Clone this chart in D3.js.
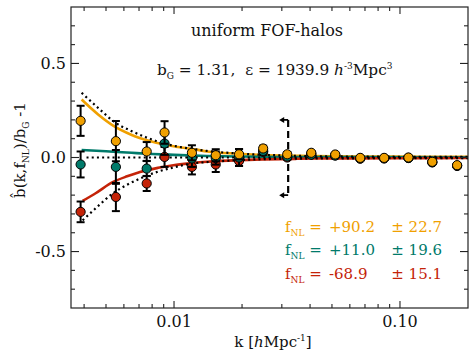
<!DOCTYPE html>
<html>
<head>
<meta charset="utf-8">
<script src="https://cdn.jsdelivr.net/npm/d3@7"></script>
<style>
  body { margin: 0; background: #fff; }
  text { font-family: "DejaVu Serif", serif; fill: #111; white-space: pre; }
</style>
</head>
<body>
<div id="app"></div>
<script>
// 画布大小
const width = 472, height = 354;
const padding = { left: 71, right: 4, top: 7, bottom: 46 };

// 数据点的k值
const kBins = [0.00386, 0.00553, 0.00757, 0.00908, 0.0120, 0.0153, 0.0194, 0.0248,
               0.0317, 0.0405, 0.0517, 0.0667, 0.0851, 0.109, 0.139, 0.179];

// 三组测量值与误差
const orangeVals = [0.195, 0.087, 0.032, 0.133, 0.025, 0.012, 0.017, 0.048, 0.017, 0.025, 0.016, -0.002, -0.002, 0.0, -0.023, -0.041];
const orangeErr  = [0.080, 0.107, 0.050, 0.060, 0.040, 0.032, 0.027, 0.015, 0.012, 0.010, 0.008, 0.006, 0.005, 0.004, 0.003, 0.003];
const tealVals   = [-0.037, -0.050, -0.059, 0.074, -0.005, -0.003, 0.0, 0.035, 0.005, 0.015, 0.010, -0.005, -0.004, -0.002, -0.025, -0.043];
const tealErr    = [0.069, 0.090, 0.040, 0.060, 0.045, 0.035, 0.045, 0.020, 0.012, 0.010, 0.008, 0.006, 0.005, 0.004, 0.003, 0.003];
const redVals    = [-0.289, -0.210, -0.138, 0.003, -0.050, -0.037, -0.018, 0.030, 0.0, 0.020, 0.012, -0.006, -0.005, -0.003, -0.026, -0.045];
const redErr     = [0.055, 0.075, 0.040, 0.053, 0.040, 0.040, 0.027, 0.015, 0.012, 0.010, 0.008, 0.006, 0.005, 0.004, 0.003, 0.003];

// 模型曲线
const orangeCurveK = [0.0039, 0.0046, 0.0054, 0.0065, 0.0078, 0.0093, 0.0104, 0.0125, 0.014, 0.0192, 0.025, 0.035, 0.05, 0.08, 0.12, 0.2];
const orangeCurve  = [0.308, 0.230, 0.168, 0.120, 0.088, 0.066, 0.056, 0.042, 0.032, 0.020, 0.013, 0.009, 0.006, 0.005, 0.004, 0.004];
const upperDotK    = [0.0039, 0.0047, 0.0055, 0.0065, 0.0075, 0.009, 0.0104, 0.0125, 0.014, 0.02, 0.03, 0.05, 0.1, 0.2];
const upperDot     = [0.344, 0.255, 0.185, 0.140, 0.108, 0.075, 0.058, 0.043, 0.035, 0.020, 0.011, 0.006, 0.004, 0.003];
const tealCurveK   = [0.0039, 0.005, 0.0065, 0.008, 0.01, 0.014, 0.02, 0.03, 0.05, 0.2];
const tealCurve    = [0.040, 0.033, 0.025, 0.019, 0.014, 0.008, 0.005, 0.003, 0.002, 0.001];
const midDotK      = [0.0041, 0.01, 0.05, 0.2];
const midDot       = [0.0, 0.0, 0.0, 0.0];
const redCurveK    = [0.00394, 0.0045, 0.00538, 0.0062, 0.00707, 0.0085, 0.00993, 0.012, 0.01395, 0.0192, 0.025, 0.035, 0.05, 0.1, 0.2];
const redCurve     = [-0.231, -0.190, -0.130, -0.100, -0.077, -0.055, -0.041, -0.030, -0.023, -0.014, -0.010, -0.007, -0.005, -0.004, -0.003];
const lowerDotK    = [0.00394, 0.0045, 0.00538, 0.0062, 0.00707, 0.0085, 0.0095, 0.012, 0.015, 0.0192, 0.03, 0.05, 0.2];
const lowerDot     = [-0.334, -0.270, -0.190, -0.145, -0.112, -0.075, -0.059, -0.032, -0.022, -0.014, -0.007, -0.005, -0.003];

// 图例文字
const fnlVals = ['+90.2', '+11.0', '-68.9'];
const fnlErrs = ['22.7', '19.6', '15.1'];
const colors = ['#f0a000', '#007a6a', '#c42308'];

// 刻度
const xMajor = [0.01, 0.1];
const xTickLabels = ['0.01', '0.10'];
const xMinor = [0.004, 0.005, 0.006, 0.007, 0.008, 0.009, 0.02, 0.03, 0.04, 0.05, 0.06, 0.07, 0.08, 0.09];
const yMajor = [-0.5, 0, 0.5];
const yTickLabels = ['-0.5', '0.0', '0.5'];
const yMinor = [-0.7, -0.6, -0.4, -0.3, -0.2, -0.1, 0.1, 0.2, 0.3, 0.4, 0.6, 0.7];
const kCut = 0.032;

const x0 = padding.left, x1 = width - padding.right;
const y0 = padding.top, y1 = height - padding.bottom;

const xScale = d3.scaleLog().domain([0.0035, 0.2]).range([x0, x1]);
const yScale = d3.scaleLinear().domain([-0.8, 0.8]).range([y1, y0]);

const svg = d3.select('#app').append('svg')
    .attr('width', width).attr('height', height);

// 剪裁区域
svg.append('clipPath').attr('id', 'clip')
    .append('rect').attr('x', x0).attr('y', y0).attr('width', x1 - x0).attr('height', y1 - y0);

const plot = svg.append('g').attr('clip-path', 'url(#clip)');

const line = d3.line().x(d => xScale(d[0])).y(d => yScale(d[1])).curve(d3.curveMonotoneX);
const zip = (ks, vs) => ks.map((k, i) => [k, vs[i]]);

// 模型曲线（实线）
[[orangeCurveK, orangeCurve, colors[0]], [tealCurveK, tealCurve, colors[1]], [redCurveK, redCurve, colors[2]]]
    .forEach(([ks, vs, c]) => {
        plot.append('path').datum(zip(ks, vs))
            .attr('d', line).attr('fill', 'none')
            .attr('stroke', c).attr('stroke-width', 2.6);
    });

// 点线
[[upperDotK, upperDot], [midDotK, midDot], [lowerDotK, lowerDot]].forEach(([ks, vs]) => {
    plot.append('path').datum(zip(ks, vs))
        .attr('d', line).attr('fill', 'none')
        .attr('stroke', '#000').attr('stroke-width', 2.2)
        .attr('stroke-dasharray', '2,3.2');
});

// 虚线与箭头
const xc = xScale(kCut);
[0.2, -0.2].forEach(v => {
    const yy = yScale(v);
    plot.append('line').attr('x1', xc).attr('x2', xc - 5).attr('y1', yy).attr('y2', yy)
        .attr('stroke', '#000').attr('stroke-width', 1.8);
    plot.append('path')
        .attr('d', `M${xc - 9},${yy} L${xc - 4},${yy - 3} L${xc - 4},${yy + 3} Z`)
        .attr('fill', '#000');
});
plot.append('line')
    .attr('x1', xc).attr('x2', xc)
    .attr('y1', yScale(0.2)).attr('y2', yScale(-0.2))
    .attr('stroke', '#000').attr('stroke-width', 2.2)
    .attr('stroke-dasharray', '7,4');

// 误差棒与数据点
const series = [
    [redVals, redErr, colors[2]],
    [tealVals, tealErr, colors[1]],
    [orangeVals, orangeErr, colors[0]]
];
series.forEach(([vals, errs, c]) => {
    const g = plot.append('g');
    kBins.forEach((k, i) => {
        const xx = xScale(k);
        const yt = yScale(vals[i] + errs[i]), yb = yScale(vals[i] - errs[i]);
        g.append('line').attr('x1', xx).attr('x2', xx).attr('y1', yt).attr('y2', yb)
            .attr('stroke', '#000').attr('stroke-width', 2);
        [yt, yb].forEach(yy => {
            g.append('line').attr('x1', xx - 4).attr('x2', xx + 4).attr('y1', yy).attr('y2', yy)
                .attr('stroke', '#000').attr('stroke-width', 2);
        });
    });
    g.selectAll('circle').data(vals).enter().append('circle')
        .attr('cx', (d, i) => xScale(kBins[i]))
        .attr('cy', d => yScale(d))
        .attr('r', 4.6)
        .attr('fill', c).attr('stroke', '#000').attr('stroke-width', 1);
});

// 边框与刻度
svg.append('rect').attr('x', x0).attr('y', y0).attr('width', x1 - x0).attr('height', y1 - y0)
    .attr('fill', 'none').attr('stroke', '#222').attr('stroke-width', 1.2);

const tickG = svg.append('g').attr('stroke', '#222').attr('stroke-width', 1.1);
const xt = (vals, len) => vals.forEach(v => {
    const xx = xScale(v);
    tickG.append('line').attr('x1', xx).attr('x2', xx).attr('y1', y1).attr('y2', y1 - len);
    tickG.append('line').attr('x1', xx).attr('x2', xx).attr('y1', y0).attr('y2', y0 + len);
});
xt(xMajor, 7); xt(xMinor, 4);
const yt = (vals, len) => vals.forEach(v => {
    const yy = yScale(v);
    tickG.append('line').attr('x1', x0).attr('x2', x0 + len).attr('y1', yy).attr('y2', yy);
    tickG.append('line').attr('x1', x1).attr('x2', x1 - len).attr('y1', yy).attr('y2', yy);
});
yt(yMajor, 8); yt(yMinor, 4);

// 刻度标签
svg.selectAll('.xl').data(xMajor).enter().append('text')
    .attr('x', d => xScale(d)).attr('y', y1 + 19)
    .attr('text-anchor', 'middle').attr('font-size', 16)
    .text((d, i) => xTickLabels[i]);
svg.selectAll('.yl').data(yMajor).enter().append('text')
    .attr('x', x0 - 5).attr('y', d => yScale(d) + 5.5)
    .attr('text-anchor', 'end').attr('font-size', 16)
    .text((d, i) => yTickLabels[i]);

// 坐标轴标题
const xl = svg.append('text').attr('x', 273).attr('y', 347)
    .attr('text-anchor', 'middle').attr('font-size', 15);
xl.append('tspan').text('k [');
xl.append('tspan').attr('font-style', 'italic').text('h');
xl.append('tspan').text('Mpc');
xl.append('tspan').attr('font-size', 9).attr('dy', -6).text('-1');
xl.append('tspan').attr('dy', 6).text(']');

const yl = svg.append('text').attr('transform', 'translate(25,150) rotate(-90)')
    .attr('text-anchor', 'middle').attr('font-size', 15);
yl.append('tspan').text('b\u0302(k,f');
yl.append('tspan').attr('font-size', 9).attr('dy', 4).text('NL');
yl.append('tspan').attr('dy', -4).text(')/b');
yl.append('tspan').attr('font-size', 9).attr('dy', 4).text('G');
yl.append('tspan').attr('dy', -4).text(' -1');

// 标题
svg.append('text').attr('x', 267).attr('y', 36)
    .attr('text-anchor', 'middle').attr('font-size', 16)
    .text('uniform FOF-halos');
const t2 = svg.append('text').attr('x', 157).attr('y', 75).attr('font-size', 15.3);
t2.append('tspan').text('b');
t2.append('tspan').attr('font-size', 9).attr('dy', 4).text('G');
t2.append('tspan').attr('dy', -4).text(' = 1.31,  \u03b5 = 1939.9 ');
t2.append('tspan').attr('font-style', 'italic').text('h');
t2.append('tspan').attr('font-size', 9).attr('dy', -6).text('-3');
t2.append('tspan').attr('dy', 6).text('Mpc');
t2.append('tspan').attr('font-size', 9).attr('dy', -6).text('3');

// 图例
fnlVals.forEach((v, i) => {
    const yy = 232 + i * 23.3;
    const g = svg.append('g');
    const a = g.append('text').attr('x', 285).attr('y', yy).attr('font-size', 15).style('fill', colors[i]);
    a.append('tspan').text('f');
    a.append('tspan').attr('font-size', 9).attr('dy', 4).text('NL');
    a.append('tspan').attr('dy', -4).text(' =');
    g.append('text').attr('x', 329).attr('y', yy).attr('font-size', 15).style('fill', colors[i]).text(v);
    g.append('text').attr('x', 442).attr('y', yy).attr('text-anchor', 'end')
        .attr('font-size', 15).style('fill', colors[i]).text('\u00b1 ' + fnlErrs[i]);
});
</script>
</body>
</html>
